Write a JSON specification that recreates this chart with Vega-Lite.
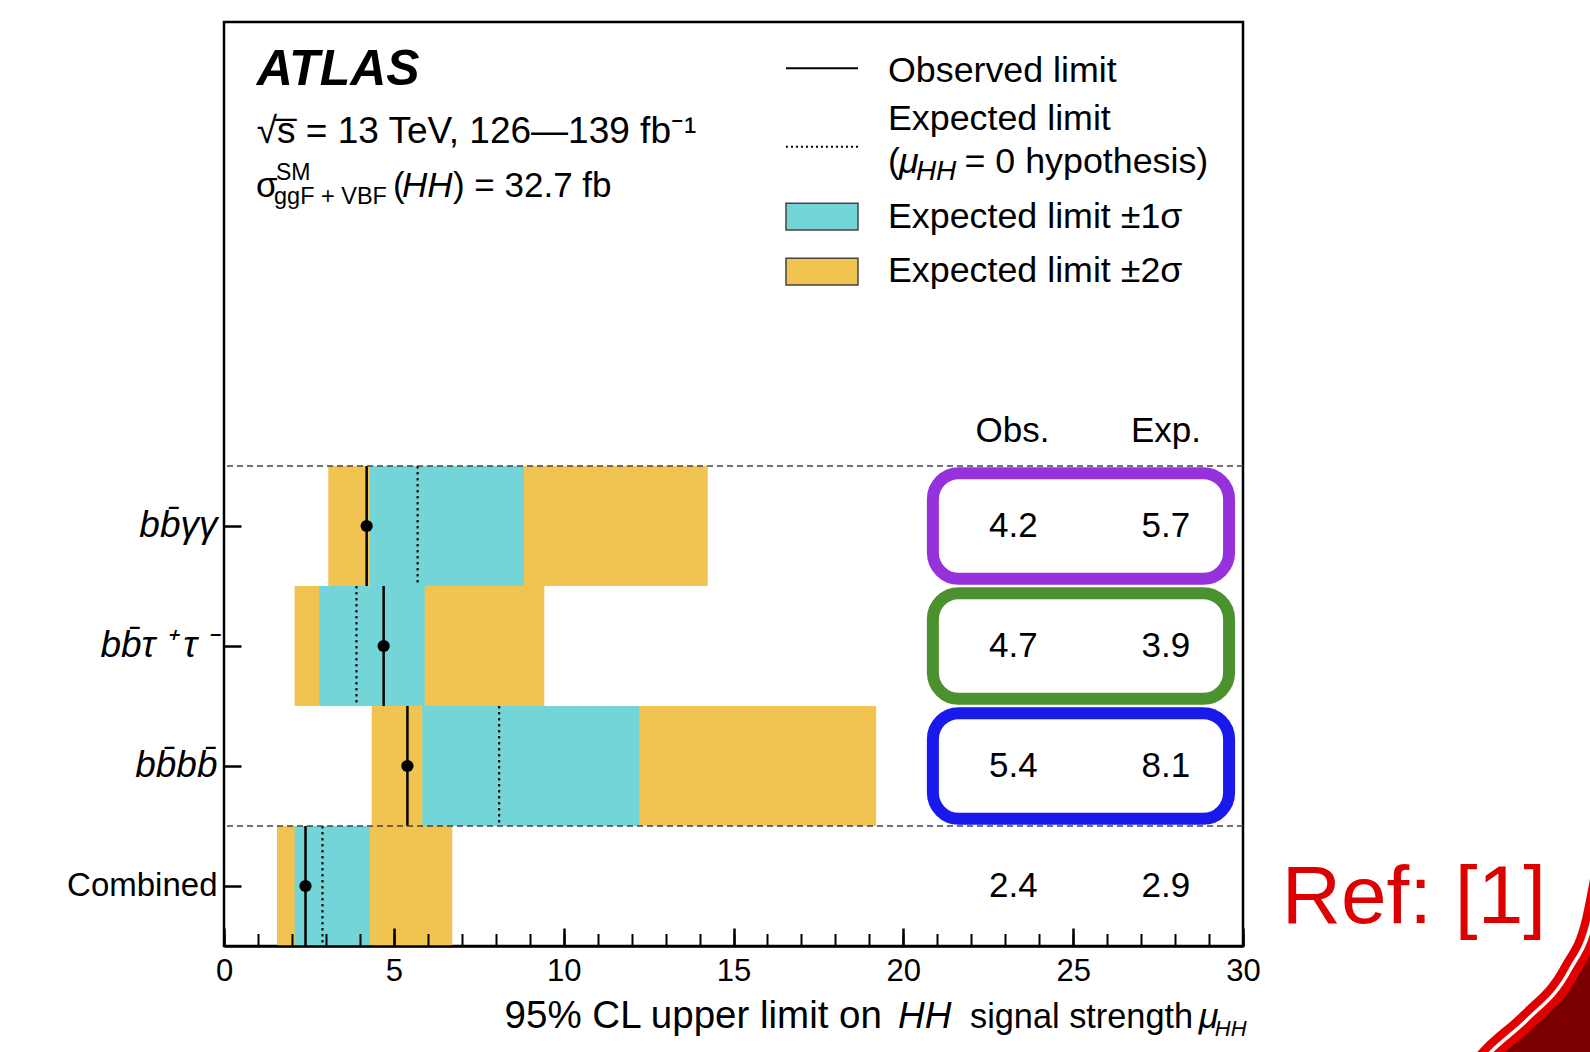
{
  "$schema": "https://vega.github.io/schema/vega-lite/v6.json",
  "width": 1019,
  "height": 924,
  "autosize": {"type": "none"},
  "padding": {"left": 224, "top": 22, "right": 347, "bottom": 106},
  "background": "white",
  "config": {
    "font": "Liberation Sans",
    "view": {"stroke": "black", "strokeWidth": 2.5},
    "text": {"font": "Liberation Sans", "color": "black"}
  },
  "datasets": {
    "limits": [
      {"channel": "bb\u0304\u03b3\u03b3", "m2": 3.07, "m1": 4.29, "p1": 8.83, "p2": 14.24, "obs": 4.2, "exp": 5.7},
      {"channel": "bb\u0304\u03c4\u2009\u207a\u2009\u03c4\u2009\u207b", "m2": 2.08, "m1": 2.8, "p1": 5.91, "p2": 9.43, "obs": 4.7, "exp": 3.9},
      {"channel": "bb\u0304bb\u0304", "m2": 4.35, "m1": 5.84, "p1": 12.22, "p2": 19.2, "obs": 5.4, "exp": 8.1},
      {"channel": "Combined", "m2": 1.56, "m1": 2.08, "p1": 4.3, "p2": 6.72, "obs": 2.4, "exp": 2.9}
    ],
    "separators": [{"channel": "bb\u0304\u03b3\u03b3"}, {"channel": "Combined"}],
    "swoosh": [
      {"x": 36.683, "y": -1.075},
      {"x": 37.301, "y": -0.883},
      {"x": 38.361, "y": -0.617},
      {"x": 39.627, "y": -0.2},
      {"x": 40.274, "y": 0.217},
      {"x": 40.51, "y": 0.55}
    ]
  },
  "resolve": {"scale": {"y": "independent"}, "axis": {"x": "independent", "y": "independent"}},
  "layer": [
    {
      "data": {"name": "limits"},
      "resolve": {"axis": {"x": "independent"}},
      "layer": [
        {
          "mark": {"type": "bar", "fill": "#F1C350"},
          "encoding": {
            "x": {
              "field": "m2", "type": "quantitative",
              "scale": {"domain": [0, 30], "nice": false, "zero": false},
              "axis": {
                "orient": "bottom", "title": null, "grid": false, "zindex": 1,
                "domain": true, "domainColor": "black", "domainWidth": 2.5,
                "values": [0, 5, 10, 15, 20, 25, 30],
                "tickSize": -18, "tickWidth": 2.5, "tickColor": "black",
                "labelOverlap": false, "labelFlush": false, "labelBound": false,
                "labelFontSize": 31, "labelFont": "Liberation Sans", "labelColor": "black",
                "labelPadding": 28
              }
            },
            "x2": {"field": "p2"},
            "y": {
              "field": "channel", "type": "nominal", "sort": null,
              "scale": {
                "domain": ["bb\u0304\u03b3\u03b3", "bb\u0304\u03c4\u2009\u207a\u2009\u03c4\u2009\u207b", "bb\u0304bb\u0304", "Combined"],
                "range": [444, 924],
                "paddingInner": 0, "paddingOuter": 0
              },
              "axis": {
                "title": null, "domain": false, "grid": false, "zindex": 1,
                "tickSize": -17, "tickWidth": 2.5, "tickColor": "black",
                "labelPadding": 24, "labelFont": "Liberation Sans", "labelColor": "black",
                "labelLimit": 0,
                "labelFontSize": {"condition": {"test": "datum.value === 'Combined'", "value": 33}, "value": 37},
                "labelFontStyle": {"condition": {"test": "datum.value === 'Combined'", "value": "normal"}, "value": "italic"}
              }
            }
          }
        },
        {
          "mark": {"type": "bar", "fill": "#74D5D8"},
          "encoding": {
            "x": {
              "field": "m1", "type": "quantitative",
              "axis": {
                "orient": "bottom", "title": null, "grid": false, "zindex": 1,
                "domain": false, "labels": false,
                "values": [0,1,2,3,4,5,6,7,8,9,10,11,12,13,14,15,16,17,18,19,20,21,22,23,24,25,26,27,28,29,30],
                "tickSize": -12.5, "tickWidth": 2, "tickColor": "black"
              }
            },
            "x2": {"field": "p1"},
            "y": {"field": "channel", "type": "nominal", "sort": null}
          }
        },
        {
          "mark": {"type": "rule", "color": "#111111", "strokeWidth": 2.2, "strokeDash": [2.5, 3.5]},
          "encoding": {
            "x": {"field": "exp", "type": "quantitative", "axis": null},
            "y": {"field": "channel", "type": "nominal", "sort": null, "bandPosition": 0},
            "y2": {"field": "channel", "bandPosition": 1}
          }
        },
        {
          "mark": {"type": "rule", "color": "black", "strokeWidth": 2.5},
          "encoding": {
            "x": {"field": "obs", "type": "quantitative", "axis": null},
            "y": {"field": "channel", "type": "nominal", "sort": null, "bandPosition": 0},
            "y2": {"field": "channel", "bandPosition": 1}
          }
        },
        {
          "mark": {"type": "point", "filled": true, "color": "black", "size": 150, "opacity": 1},
          "encoding": {
            "x": {"field": "obs", "type": "quantitative", "axis": null},
            "y": {"field": "channel", "type": "nominal", "sort": null}
          }
        },
        {
          "data": {"name": "separators"},
          "mark": {"type": "rule", "color": "#444444", "strokeWidth": 1.5, "strokeDash": [6, 4]},
          "encoding": {
            "y": {"field": "channel", "type": "nominal", "sort": null, "bandPosition": 0}
          }
        },
        {
          "transform": [{"filter": "datum.channel !== 'Combined'"}],
          "mark": {"type": "bar", "fillOpacity": 0, "strokeWidth": 12, "cornerRadius": 26, "height": {"band": 0.88}},
          "encoding": {
            "x": {"datum": 20.87, "type": "quantitative", "axis": null},
            "x2": {"datum": 29.59},
            "y": {"field": "channel", "type": "nominal", "sort": null},
            "stroke": {
              "field": "channel", "type": "nominal", "legend": null,
              "scale": {
                "domain": ["bb\u0304\u03b3\u03b3", "bb\u0304\u03c4\u2009\u207a\u2009\u03c4\u2009\u207b", "bb\u0304bb\u0304"],
                "range": ["#9632DC", "#4B912D", "#1919EB"]
              }
            }
          }
        },
        {
          "mark": {"type": "text", "fontSize": 35, "align": "center", "baseline": "middle"},
          "encoding": {
            "x": {"datum": 23.24, "type": "quantitative", "axis": null},
            "y": {"field": "channel", "type": "nominal", "sort": null},
            "text": {"field": "obs", "format": ".1f"}
          }
        },
        {
          "mark": {"type": "text", "fontSize": 35, "align": "center", "baseline": "middle"},
          "encoding": {
            "x": {"datum": 27.73, "type": "quantitative", "axis": null},
            "y": {"field": "channel", "type": "nominal", "sort": null},
            "text": {"field": "exp", "format": ".1f"}
          }
        }
      ]
    },
    {
      "layer": [
        {
          "data": {"name": "swoosh"},
          "mark": {"type": "area", "fill": "#7A0000", "interpolate": "monotone"},
          "encoding": {
            "x": {"field": "x", "type": "quantitative", "axis": null},
            "y": {"field": "y", "type": "quantitative", "axis": null, "scale": {"domain": [0, 7.7], "nice": false, "zero": false}},
            "y2": {"datum": -1.6}
          }
        },
        {
          "data": {"name": "swoosh"},
          "mark": {"type": "line", "color": "#E00000", "strokeWidth": 20, "interpolate": "monotone"},
          "encoding": {
            "x": {"field": "x", "type": "quantitative", "axis": null},
            "y": {"field": "y", "type": "quantitative", "axis": null}
          }
        },
        {
          "data": {"name": "swoosh"},
          "mark": {"type": "line", "color": "white", "strokeWidth": 3.5, "interpolate": "monotone"},
          "encoding": {
            "x": {"field": "x", "type": "quantitative", "axis": null},
            "y": {"field": "y", "type": "quantitative", "axis": null}
          }
        },
        {
          "data": {"values": [{"t": "ATLAS"}]},
          "mark": {"type": "text", "align": "left", "baseline": "alphabetic", "fontSize": 50, "fontWeight": "bold", "fontStyle": "italic"},
          "encoding": {
            "x": {"datum": 0.963, "type": "quantitative", "axis": null},
            "y": {"datum": 7.175, "type": "quantitative", "axis": null},
            "text": {"field": "t"}
          }
        },
        {
          "data": {"values": [{"t": "\u221as\u0305 = 13 TeV, 126\u2014139 fb\u207b\u00b9"}]},
          "mark": {"type": "text", "align": "left", "baseline": "alphabetic", "fontSize": 37},
          "encoding": {
            "x": {"datum": 0.963, "type": "quantitative", "axis": null},
            "y": {"datum": 6.689, "type": "quantitative", "axis": null},
            "text": {"field": "t"}
          }
        },
        {
          "data": {"values": [{"t": "\u03c3"}]},
          "mark": {"type": "text", "align": "left", "baseline": "alphabetic", "fontSize": 35},
          "encoding": {
            "x": {"datum": 0.942, "type": "quantitative", "axis": null},
            "y": {"datum": 6.244, "type": "quantitative", "axis": null},
            "text": {"field": "t"}
          }
        },
        {
          "data": {"values": [{"t": "SM"}]},
          "mark": {"type": "text", "align": "left", "baseline": "alphabetic", "fontSize": 23},
          "encoding": {
            "x": {"datum": 1.531, "type": "quantitative", "axis": null},
            "y": {"datum": 6.38, "type": "quantitative", "axis": null},
            "text": {"field": "t"}
          }
        },
        {
          "data": {"values": [{"t": "ggF + VBF"}]},
          "mark": {"type": "text", "align": "left", "baseline": "alphabetic", "fontSize": 23.5},
          "encoding": {
            "x": {"datum": 1.472, "type": "quantitative", "axis": null},
            "y": {"datum": 6.18, "type": "quantitative", "axis": null},
            "text": {"field": "t"}
          }
        },
        {
          "data": {"values": [{"t": "("}]},
          "mark": {"type": "text", "align": "left", "baseline": "alphabetic", "fontSize": 35},
          "encoding": {
            "x": {"datum": 4.975, "type": "quantitative", "axis": null},
            "y": {"datum": 6.244, "type": "quantitative", "axis": null},
            "text": {"field": "t"}
          }
        },
        {
          "data": {"values": [{"t": "HH"}]},
          "mark": {"type": "text", "align": "left", "baseline": "alphabetic", "fontSize": 35, "fontStyle": "italic"},
          "encoding": {
            "x": {"datum": 5.24, "type": "quantitative", "axis": null},
            "y": {"datum": 6.244, "type": "quantitative", "axis": null},
            "text": {"field": "t"}
          }
        },
        {
          "data": {"values": [{"t": ") = 32.7 fb"}]},
          "mark": {"type": "text", "align": "left", "baseline": "alphabetic", "fontSize": 35},
          "encoding": {
            "x": {"datum": 6.74, "type": "quantitative", "axis": null},
            "y": {"datum": 6.244, "type": "quantitative", "axis": null},
            "text": {"field": "t"}
          }
        },
        {
          "data": {"values": [{"t": "Observed limit"}]},
          "mark": {"type": "rule", "color": "black", "strokeWidth": 2},
          "encoding": {
            "x": {"datum": 16.545, "type": "quantitative", "axis": null},
            "x2": {"datum": 18.665},
            "y": {"datum": 7.314, "type": "quantitative", "axis": null}
          }
        },
        {
          "data": {"values": [{"t": "Expected limit"}]},
          "mark": {"type": "rule", "color": "black", "strokeWidth": 2, "strokeDash": [2, 3]},
          "encoding": {
            "x": {"datum": 16.545, "type": "quantitative", "axis": null},
            "x2": {"datum": 18.665},
            "y": {"datum": 6.661, "type": "quantitative", "axis": null}
          }
        },
        {
          "data": {"values": [{"t": "Expected limit \u00b11\u03c3"}]},
          "mark": {"type": "rect", "fill": "#74D5D8", "stroke": "#444444", "strokeWidth": 1.5},
          "encoding": {
            "x": {"datum": 16.545, "type": "quantitative", "axis": null},
            "x2": {"datum": 18.665},
            "y": {"datum": 6.189, "type": "quantitative", "axis": null},
            "y2": {"datum": 5.967}
          }
        },
        {
          "data": {"values": [{"t": "Expected limit \u00b12\u03c3"}]},
          "mark": {"type": "rect", "fill": "#F1C350", "stroke": "#444444", "strokeWidth": 1.5},
          "encoding": {
            "x": {"datum": 16.545, "type": "quantitative", "axis": null},
            "x2": {"datum": 18.665},
            "y": {"datum": 5.731, "type": "quantitative", "axis": null},
            "y2": {"datum": 5.508}
          }
        },
        {
          "data": {"values": [{"t": "Observed limit"}]},
          "mark": {"type": "text", "align": "left", "baseline": "alphabetic", "fontSize": 35.8},
          "encoding": {
            "x": {"datum": 19.548, "type": "quantitative", "axis": null},
            "y": {"datum": 7.2025, "type": "quantitative", "axis": null},
            "text": {"field": "t"}
          }
        },
        {
          "data": {"values": [{"t": "Expected limit"}]},
          "mark": {"type": "text", "align": "left", "baseline": "alphabetic", "fontSize": 35.8},
          "encoding": {
            "x": {"datum": 19.548, "type": "quantitative", "axis": null},
            "y": {"datum": 6.8, "type": "quantitative", "axis": null},
            "text": {"field": "t"}
          }
        },
        {
          "data": {"values": [{"t": "("}]},
          "mark": {"type": "text", "align": "left", "baseline": "alphabetic", "fontSize": 35.8},
          "encoding": {
            "x": {"datum": 19.548, "type": "quantitative", "axis": null},
            "y": {"datum": 6.439, "type": "quantitative", "axis": null},
            "text": {"field": "t"}
          }
        },
        {
          "data": {"values": [{"t": "\u03bc"}]},
          "mark": {"type": "text", "align": "left", "baseline": "alphabetic", "fontSize": 35.8, "fontStyle": "italic"},
          "encoding": {
            "x": {"datum": 19.87, "type": "quantitative", "axis": null},
            "y": {"datum": 6.439, "type": "quantitative", "axis": null},
            "text": {"field": "t"}
          }
        },
        {
          "data": {"values": [{"t": "HH"}]},
          "mark": {"type": "text", "align": "left", "baseline": "alphabetic", "fontSize": 28, "fontStyle": "italic"},
          "encoding": {
            "x": {"datum": 20.37, "type": "quantitative", "axis": null},
            "y": {"datum": 6.383, "type": "quantitative", "axis": null},
            "text": {"field": "t"}
          }
        },
        {
          "data": {"values": [{"t": "= 0 hypothesis)"}]},
          "mark": {"type": "text", "align": "left", "baseline": "alphabetic", "fontSize": 35.8},
          "encoding": {
            "x": {"datum": 21.8, "type": "quantitative", "axis": null},
            "y": {"datum": 6.439, "type": "quantitative", "axis": null},
            "text": {"field": "t"}
          }
        },
        {
          "data": {"values": [{"t": "Expected limit \u00b11\u03c3"}]},
          "mark": {"type": "text", "align": "left", "baseline": "alphabetic", "fontSize": 35.8},
          "encoding": {
            "x": {"datum": 19.548, "type": "quantitative", "axis": null},
            "y": {"datum": 5.98, "type": "quantitative", "axis": null},
            "text": {"field": "t"}
          }
        },
        {
          "data": {"values": [{"t": "Expected limit \u00b12\u03c3"}]},
          "mark": {"type": "text", "align": "left", "baseline": "alphabetic", "fontSize": 35.8},
          "encoding": {
            "x": {"datum": 19.548, "type": "quantitative", "axis": null},
            "y": {"datum": 5.536, "type": "quantitative", "axis": null},
            "text": {"field": "t"}
          }
        },
        {
          "data": {"values": [{"t": "Obs."}]},
          "mark": {"type": "text", "align": "center", "baseline": "alphabetic", "fontSize": 35},
          "encoding": {
            "x": {"datum": 23.213, "type": "quantitative", "axis": null},
            "y": {"datum": 4.2, "type": "quantitative", "axis": null},
            "text": {"field": "t"}
          }
        },
        {
          "data": {"values": [{"t": "Exp."}]},
          "mark": {"type": "text", "align": "center", "baseline": "alphabetic", "fontSize": 35},
          "encoding": {
            "x": {"datum": 27.73, "type": "quantitative", "axis": null},
            "y": {"datum": 4.2, "type": "quantitative", "axis": null},
            "text": {"field": "t"}
          }
        },
        {
          "data": {"values": [{"t": "95% CL upper limit on"}]},
          "mark": {"type": "text", "align": "right", "baseline": "alphabetic", "fontSize": 38.5},
          "encoding": {
            "x": {"datum": 19.37, "type": "quantitative", "axis": null},
            "y": {"datum": -0.683, "type": "quantitative", "axis": null},
            "text": {"field": "t"}
          }
        },
        {
          "data": {"values": [{"t": "HH"}]},
          "mark": {"type": "text", "align": "left", "baseline": "alphabetic", "fontSize": 37, "fontStyle": "italic"},
          "encoding": {
            "x": {"datum": 19.843, "type": "quantitative", "axis": null},
            "y": {"datum": -0.683, "type": "quantitative", "axis": null},
            "text": {"field": "t"}
          }
        },
        {
          "data": {"values": [{"t": "signal strength"}]},
          "mark": {"type": "text", "align": "left", "baseline": "alphabetic", "fontSize": 34.3},
          "encoding": {
            "x": {"datum": 21.963, "type": "quantitative", "axis": null},
            "y": {"datum": -0.683, "type": "quantitative", "axis": null},
            "text": {"field": "t"}
          }
        },
        {
          "data": {"values": [{"t": "\u03bc"}]},
          "mark": {"type": "text", "align": "left", "baseline": "alphabetic", "fontSize": 36, "fontStyle": "italic"},
          "encoding": {
            "x": {"datum": 28.7, "type": "quantitative", "axis": null},
            "y": {"datum": -0.683, "type": "quantitative", "axis": null},
            "text": {"field": "t"}
          }
        },
        {
          "data": {"values": [{"t": "HH"}]},
          "mark": {"type": "text", "align": "left", "baseline": "alphabetic", "fontSize": 22, "fontStyle": "italic"},
          "encoding": {
            "x": {"datum": 29.17, "type": "quantitative", "axis": null},
            "y": {"datum": -0.75, "type": "quantitative", "axis": null},
            "text": {"field": "t"}
          }
        },
        {
          "data": {"values": [{"t": "Ref: [1]"}]},
          "mark": {"type": "text", "align": "left", "baseline": "alphabetic", "fontSize": 82, "color": "#DD0000"},
          "encoding": {
            "x": {"datum": 31.139, "type": "quantitative", "axis": null},
            "y": {"datum": 0.189, "type": "quantitative", "axis": null},
            "text": {"field": "t"}
          }
        }
      ]
    }
  ]
}
